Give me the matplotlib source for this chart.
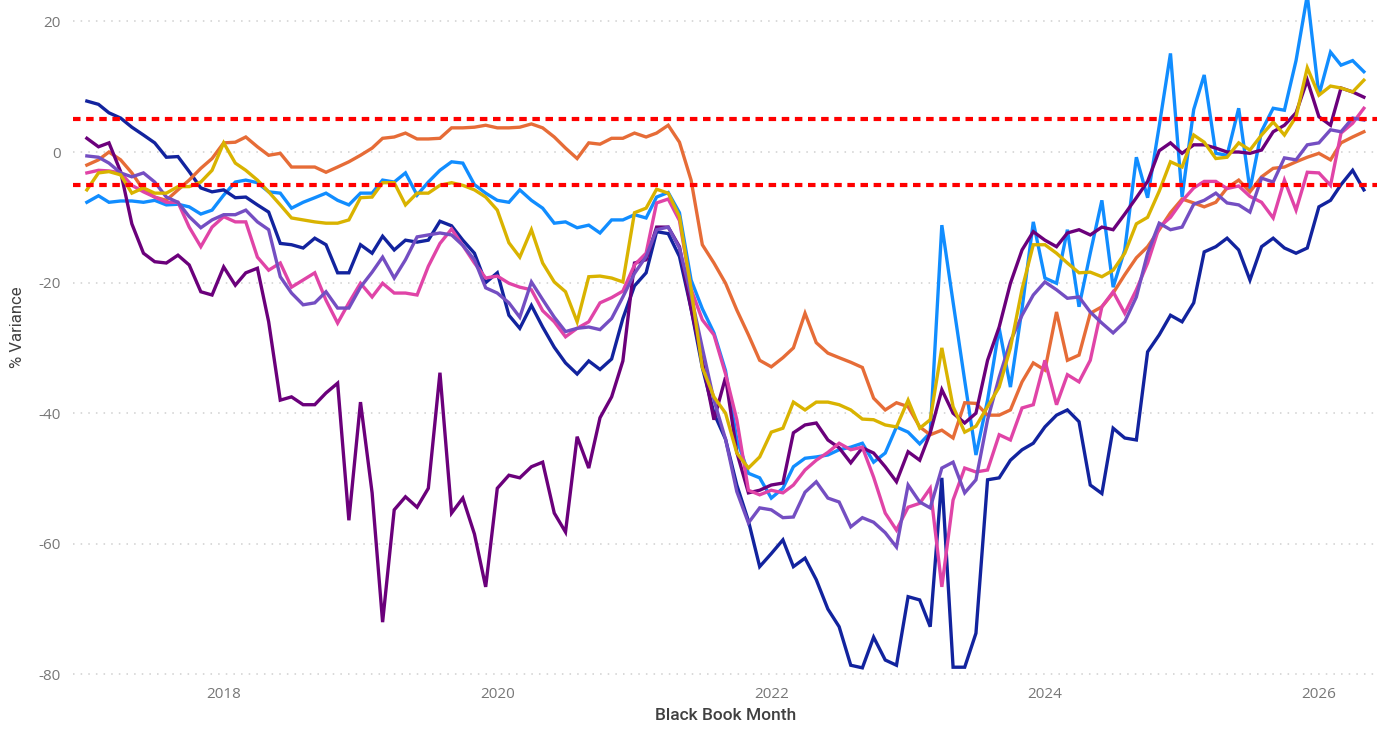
import numpy as np
import pandas as pd
import matplotlib.pyplot as plt
import matplotlib.dates as mdates

plt.rcParams['axes.unicode_minus'] = False

months = pd.date_range("2017-01-01", periods=113, freq="MS")

navy = [7.8, 7.3, 6.0, 5.2, 3.8, 2.6, 1.4, -0.8, -0.7, -3.0,
        -5.5, -6.1, -5.8, -7.0, -6.9, -8.1, -9.2, -14.0, -14.2, -14.7,
        -13.2, -14.2, -18.5, -18.5, -14.2, -15.5, -12.9, -15.0, -13.5, -13.8,
        -13.5, -10.6, -11.3, -13.5, -15.5, -20.0, -18.5, -25.0, -27.0, -23.5,
        -26.8, -29.9, -32.3, -34.0, -32.0, -33.3, -31.7, -25.5, -20.5, -18.5,
        -12.2, -12.5, -16.0, -24.0, -33.0, -40.0, -44.0, -51.0, -56.5, -63.5,
        -61.5, -59.4, -63.5, -62.2, -65.5, -70.0, -72.7, -78.6, -79.0, -74.3,
        -77.8, -78.6, -68.1, -68.6, -72.7, -49.9, -78.9, -78.9, -73.7, -50.2,
        -49.9, -47.2, -45.6, -44.6, -42.1, -40.3, -39.5, -41.3, -51.0, -52.3,
        -42.3, -43.8, -44.1, -30.6, -28.0, -25.0, -26.0, -23.1, -15.3, -14.5,
        -13.2, -15.0, -19.6, -14.5, -13.2, -14.7, -15.5, -14.7, -8.4, -7.4,
        -5.0, -2.8, -5.8]

light_blue = [-7.7, -6.7, -7.7, -7.5, -7.5, -7.7, -7.4, -8.1, -8.0, -8.4,
              -9.5, -8.9, -6.6, -4.6, -4.3, -4.7, -6.1, -6.3, -8.6, -7.7,
              -7.0, -6.3, -7.4, -8.1, -6.3, -6.3, -4.3, -4.6, -3.2, -6.6,
              -4.6, -2.8, -1.5, -1.7, -5.0, -6.3, -7.4, -7.7, -5.8, -7.4,
              -8.6, -10.9, -10.7, -11.6, -11.2, -12.4, -10.4, -10.4, -9.6, -10.1,
              -6.9, -6.2, -9.3, -19.6, -24.0, -27.7, -33.5, -44.0, -49.2, -49.9,
              -53.0, -51.5, -48.2, -46.9, -46.7, -46.4, -45.6, -45.2, -44.6, -47.5,
              -46.1, -42.1, -42.9, -44.7, -43.0, -11.2, -23.0, -35.0, -46.4, -38.0,
              -27.0, -36.0, -24.0, -10.7, -19.3, -20.1, -11.9, -23.7, -15.5, -7.4,
              -20.7, -15.0, -0.8, -7.0, 4.0, 15.1, -6.9, 6.5, 11.8, -0.2,
              -0.5, 6.7, -5.8, 3.2, 6.7, 6.4, 14.0, 24.0, 8.7, 15.3,
              13.3, 14.0, 12.3]

orange = [-2.0, -1.2, 0.0, -1.2, -3.2, -5.8, -6.9, -7.4, -5.8, -4.3,
          -2.5, -1.0, 1.4, 1.5, 2.3, 0.8, -0.5, -0.2, -2.3, -2.3,
          -2.3, -3.1, -2.3, -1.5, -0.5, 0.6, 2.1, 2.3, 2.9, 2.0,
          2.0, 2.1, 3.7, 3.7, 3.8, 4.1, 3.7, 3.7, 3.8, 4.3,
          3.7, 2.3, 0.6, -1.0, 1.4, 1.2, 2.1, 2.1, 2.9, 2.3,
          2.9, 4.1, 1.5, -4.3, -14.2, -17.0, -20.1, -24.2, -28.0, -31.9,
          -32.9, -31.5, -30.0, -24.7, -29.2, -30.8, -31.5, -32.2, -33.0, -37.7,
          -39.5, -38.4, -39.0, -42.1, -43.3, -42.6, -43.8, -38.4, -38.5, -40.3,
          -40.3, -39.5, -35.2, -32.3, -33.4, -24.5, -31.9, -31.1, -24.7, -23.7,
          -21.6, -18.8, -16.2, -14.5, -11.9, -9.3, -7.2, -7.8, -8.4, -7.7,
          -5.5, -4.3, -6.1, -3.8, -2.5, -2.3, -1.5, -0.8, -0.2, -1.2,
          1.4, 2.3, 3.1]

dark_purple = [2.1, 0.8, 1.4, -3.0, -11.0, -15.5, -16.8, -17.0, -15.8, -17.3,
               -21.4, -21.9, -17.6, -20.4, -18.5, -17.8, -26.0, -38.0, -37.5, -38.7,
               -38.7, -36.9, -35.4, -56.4, -38.3, -52.2, -72.0, -54.8, -52.8, -54.4,
               -51.5, -33.8, -55.3, -53.0, -58.5, -66.6, -51.5, -49.5, -49.9, -48.2,
               -47.5, -55.3, -58.2, -43.6, -48.4, -40.7, -37.5, -32.0, -17.0, -16.5,
               -11.5, -11.5, -14.5, -24.0, -32.0, -41.0, -34.5, -46.0, -52.2, -51.8,
               -51.0, -50.7, -43.0, -41.8, -41.5, -44.1, -45.3, -47.6, -45.3, -46.1,
               -48.2, -50.5, -45.9, -47.2, -43.0, -36.4, -40.0, -41.5, -40.0, -31.9,
               -26.8, -20.1, -15.0, -12.2, -13.5, -14.5, -12.4, -11.9, -12.7, -11.5,
               -11.9, -9.5, -7.0, -4.5, 0.2, 1.4, -0.2, 1.1, 1.1, 0.6,
               0.0, 0.0, -0.2, 0.3, 3.1, 4.1, 6.0, 11.0, 5.4, 4.1,
               9.8, 9.2, 8.4]

pink = [-3.2, -2.8, -2.9, -3.2, -5.1, -6.1, -6.9, -7.7, -7.7, -11.5,
        -14.5, -11.5, -9.9, -10.7, -10.7, -16.1, -18.1, -17.0, -20.7, -19.6,
        -18.5, -22.7, -26.2, -23.1, -20.1, -22.2, -20.1, -21.6, -21.6, -21.9,
        -17.5, -14.0, -11.8, -14.3, -17.0, -19.3, -19.0, -20.1, -20.7, -21.1,
        -24.3, -26.0, -28.3, -27.0, -26.0, -23.1, -22.3, -21.3, -17.3, -15.5,
        -7.8, -7.2, -10.5, -21.0, -25.7, -28.0, -34.0, -41.0, -51.8, -52.5,
        -51.8, -52.2, -51.0, -48.7, -47.2, -46.0, -44.6, -45.6, -45.2, -49.8,
        -55.3, -57.9, -54.4, -53.8, -51.5, -66.6, -53.3, -48.4, -49.0, -48.7,
        -43.3, -44.1, -39.2, -38.7, -31.9, -38.7, -34.1, -35.2, -31.9, -23.7,
        -21.4, -24.7, -21.1, -17.0, -11.5, -10.0, -7.5, -5.5, -4.5, -4.5,
        -5.6, -5.2, -6.8, -7.7, -10.1, -4.3, -8.9, -3.1, -3.2, -5.1,
        2.9, 4.4, 6.7]

purple = [-0.6, -0.8, -1.7, -3.2, -3.8, -3.2, -4.6, -6.9, -7.7, -9.9,
          -11.6, -10.4, -9.6, -9.6, -8.9, -10.7, -11.9, -19.1, -21.6, -23.4,
          -23.1, -21.4, -23.9, -23.9, -20.7, -18.4, -16.1, -19.3, -16.5, -13.0,
          -12.7, -12.4, -12.7, -14.3, -16.5, -20.8, -21.6, -23.1, -25.3, -19.9,
          -22.6, -25.3, -27.5, -27.0, -26.8, -27.2, -25.5, -22.2, -18.6, -16.0,
          -11.9, -11.5, -14.7, -22.0, -30.0, -38.0, -44.0, -52.0, -56.8, -54.5,
          -54.8, -56.0, -55.9, -52.1, -50.5, -53.0, -53.6, -57.4, -56.0, -56.7,
          -58.3, -60.5, -51.0, -53.6, -54.5, -48.4, -47.5, -52.2, -50.2, -41.0,
          -34.5, -29.0, -25.0, -21.9, -19.9, -21.1, -22.4, -22.2, -24.5, -26.2,
          -27.7, -26.0, -22.2, -15.5, -10.9, -11.9, -11.5, -8.0, -7.4, -6.3,
          -7.8, -8.1, -9.2, -4.0, -4.6, -0.9, -1.2, 1.1, 1.4, 3.4,
          3.1, 5.2, 4.9]

yellow = [-5.8, -3.2, -3.0, -3.5, -6.3, -5.5, -6.3, -6.3, -5.3, -5.3,
          -4.6, -2.8, 1.4, -1.7, -2.8, -4.3, -6.1, -8.1, -10.1, -10.4,
          -10.7, -10.9, -10.9, -10.4, -7.0, -6.9, -4.7, -4.7, -8.1, -6.3,
          -6.3, -5.1, -4.7, -5.1, -5.8, -6.9, -8.9, -13.9, -16.1, -11.9,
          -17.0, -19.9, -21.4, -26.0, -19.1, -19.0, -19.3, -19.9, -9.3, -8.6,
          -5.7, -6.3, -9.9, -21.0, -33.0, -37.5, -40.0, -46.1, -48.4, -46.7,
          -42.9, -42.3, -38.3, -39.5, -38.3, -38.3, -38.7, -39.5, -40.9, -41.0,
          -41.8, -42.1, -38.0, -42.3, -41.0, -30.0, -39.0, -42.9, -42.0, -39.0,
          -36.0, -30.0, -21.0, -14.2, -14.2, -15.5, -17.0, -18.5, -18.4, -19.1,
          -18.1, -15.5, -11.0, -10.0, -6.0, -1.5, -2.3, 2.6, 1.5, -1.0,
          -0.8, 1.4, 0.3, 2.6, 4.6, 2.6, 5.4, 12.9, 8.7, 10.1,
          9.8, 9.2, 11.0]

series = [
    (light_blue, "#118DFF"),
    (navy, "#12239E"),
    (orange, "#E66C37"),
    (dark_purple, "#6B007B"),
    (pink, "#E044A7"),
    (purple, "#744EC2"),
    (yellow, "#D9B300"),
]

fig = plt.figure(figsize=(13.92, 7.29), dpi=100)
ax = fig.add_axes([73 / 1392, 49 / 729, 1304 / 1392, 680 / 729])

for vals, col in series:
    ax.plot(months, vals, color=col, lw=2.4, solid_joinstyle="miter", zorder=3)

for lim in [5, -5]:
    ax.axhline(lim, color="#FF0000", lw=3, linestyle=(0, (1.8, 1.35)),
               dash_capstyle="butt", zorder=5)

ax.set_ylim(-80.86, 23.28)
ax.set_xlim(pd.Timestamp("2016-11-25"), pd.Timestamp("2026-06-05"))
ax.set_yticks([20, 0, -20, -40, -60, -80])
ax.set_xticks([pd.Timestamp(f"{y}-01-01") for y in range(2018, 2027, 2)])
ax.xaxis.set_major_formatter(mdates.DateFormatter("%Y"))

ax.grid(axis="y", color="#d0d0d0", lw=1.1, linestyle=(0, (1, 4)))
ax.set_axisbelow(True)
for s in ax.spines.values():
    s.set_visible(False)
ax.tick_params(length=0, labelsize=11, labelcolor="#777777", pad=9)
ax.tick_params(axis="x", pad=5)
for lbl in ax.get_xticklabels() + ax.get_yticklabels():
    lbl.set_family("Open Sans")

fig.text(18 / 1392, 1 - 327 / 729, "% Variance", rotation=90, ha="center",
         va="center", fontsize=12, color="#404040", family="Roboto")
fig.text(726 / 1392, 1 - 716 / 729, "Black Book Month", ha="center",
         va="center", fontsize=12.5, color="#404040", family="Roboto",
         fontweight="medium")

fig.savefig("out.png", dpi=100)
